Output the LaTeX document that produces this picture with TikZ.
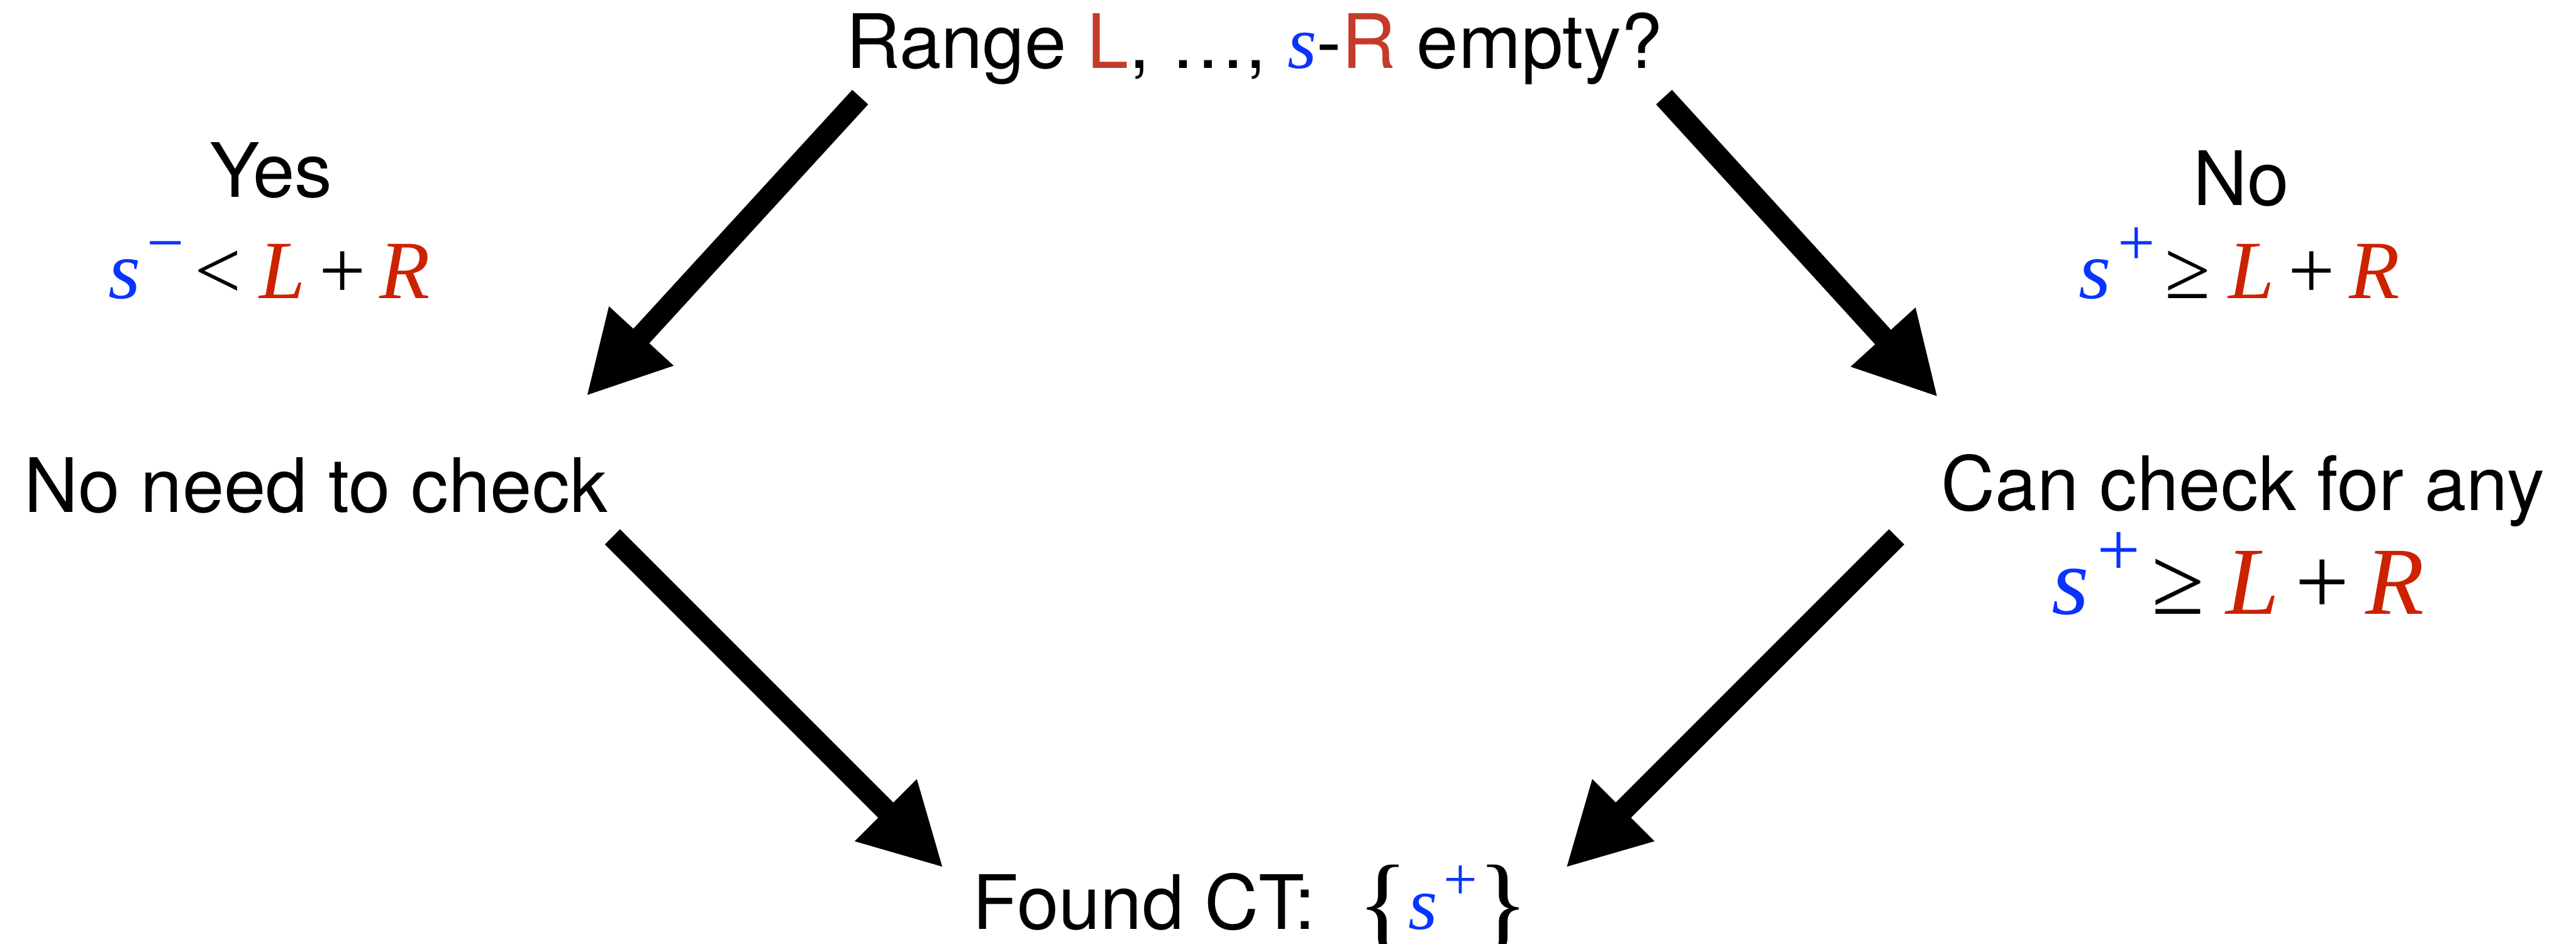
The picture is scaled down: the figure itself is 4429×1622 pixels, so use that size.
\documentclass[tikz,border=0pt]{standalone}
\usepackage{fontspec}
\setmainfont{TeX Gyre Heros}
\newfontfamily\tms{Liberation Serif}
\usepackage{xcolor}
\usepackage{graphicx}
\usepackage{tikz}
\usetikzlibrary{arrows.meta,positioning}
\definecolor{tred}{HTML}{C33B2B}
\definecolor{mred}{HTML}{CC2200}
\definecolor{sblue}{HTML}{0A33FF}
\newcommand\supr[1]{\raisebox{0.4em}{\scalebox{0.8}{\upshape #1}}}
\newcommand\svar{\textcolor{sblue}{\tms\itshape s}}
\newcommand\splus{\textcolor{sblue}{\tms\itshape s\kern0.08em\supr{+}}}
\newcommand\sminus{\textcolor{sblue}{\tms\itshape s\kern0.08em\supr{−}}}
\newcommand\rel[1]{\kern0.12em{\tms #1}\kern0.22em}
\newcommand\LplusR{{\tms\textcolor{mred}{\itshape L}\,+\,\textcolor{mred}{\itshape R}}}

\begin{document}
\begin{tikzpicture}[
 x=0.01cm,y=-0.01cm,
 txt/.style={anchor=base,inner sep=0pt,font=\fontsize{36.7}{44}\selectfont},
 mathtxt/.style={txt,font=\fontsize{40.5}{48}\selectfont},
 bigtxt/.style={txt,font=\fontsize{47}{56}\selectfont},
 bigarrow/.style={line width=0.37cm,-{Triangle[length=1.4cm,width=1.4cm]}},
]
\useasboundingbox (0,0) rectangle (4429,1622);
\node[txt] (range) at (2157,117) {Range \textcolor{tred}{L}, …, \svar-\textcolor{tred}{R} empty?};
\node[txt] (yes) at (466,339) {Yes};
\node[mathtxt] (yescond) at (463,513) {\sminus\rel{<}\LplusR};
\node[txt] (noneed) at (543,881) {No need to check};
\node[txt] (no) at (3853,353) {No};
\node[mathtxt] (nocond) at (3850,513) {\splus\rel{≥}\LplusR};
\node[txt] (cancheck) at (3856,878) {Can check for any};
\node[bigtxt] (anycond) at (3848,1056) {\splus\rel{≥}\LplusR};
\node[txt] (found) at (2150,1598) {Found CT:\ \ \raisebox{-0.12em}{\tms\fontsize{52}{60}\selectfont\{}\splus\raisebox{-0.12em}{\tms\fontsize{52}{60}\selectfont\}}};
% arrow ends
\coordinate (yesfrom) at (1479,167);
\coordinate (yesto) at (1008,681);
\coordinate (nofrom) at (2861,167);
\coordinate (noto) at (3332,683);
\coordinate (leftfrom) at (1053,923);
\coordinate (leftto) at (1622,1492);
\coordinate (rightfrom) at (3261,923);
\coordinate (rightto) at (2692,1492);
\draw[bigarrow] (yesfrom) -- (yesto);
\draw[bigarrow] (nofrom) -- (noto);
\draw[bigarrow] (leftfrom) -- (leftto);
\draw[bigarrow] (rightfrom) -- (rightto);
\end{tikzpicture}
\end{document}
